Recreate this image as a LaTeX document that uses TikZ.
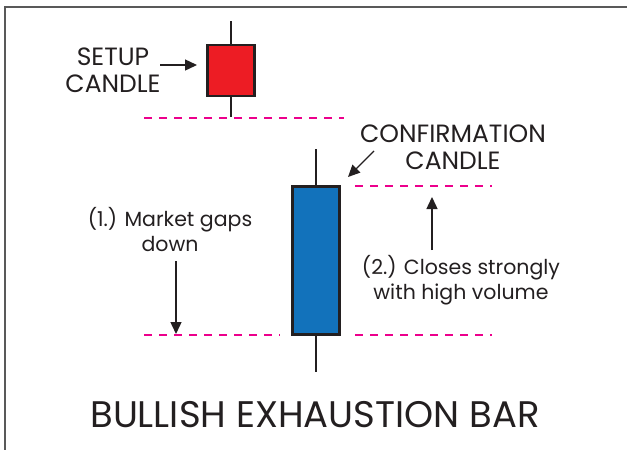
\documentclass[tikz,border=0pt]{standalone}
\usepackage{fontspec}
\setmainfont{Poppins}
\usetikzlibrary{arrows.meta}
\definecolor{setupred}{HTML}{ED1C24}
\definecolor{confblue}{HTML}{1272BB}
\definecolor{gapline}{HTML}{EC008C}
\definecolor{inkgray}{HTML}{231F20}
\tikzset{
  candle/.style={draw=inkgray, line width=2.6pt, minimum width=47pt, inner sep=0pt},
  wick/.style={draw=inkgray, line width=2.4pt},
  level/.style={draw=gapline, line width=2.8pt, dash pattern=on 8pt off 7pt},
  pointer/.style={draw=inkgray, line width=1.4pt, -{Triangle[length=12pt,width=11pt]}},
  label/.style={text=inkgray, align=center, font=\fontsize{20.5}{25}\selectfont, inner sep=0pt},
  caplabel/.style={label, font=\fontsize{25}{27}\selectfont}
}
\begin{document}
\begin{tikzpicture}[x=1pt, y=-1pt]
				\useasboundingbox (0,0) rectangle (627,450);
				\draw[gray!70!black, line width=2pt] (5,450) -- (5,7) -- (627,7);
				% candles
				\node[candle, fill=setupred, minimum height=51pt] (setup) at (231,70.5) {};
				\node[candle, fill=confblue, minimum height=148pt] (conf) at (316,260.5) {};
				\coordinate (setuptop) at (231,21);
				\coordinate (setupbot) at (231,117);
				\coordinate (conftop) at (316,149);
				\coordinate (confbot) at (316,372);
				\draw[wick] (setup.north) -- (setuptop);
				\draw[wick] (setup.south) -- (setupbot);
				\draw[wick] (conf.north) -- (conftop);
				\draw[wick] (conf.south) -- (confbot);
				% levels
				\draw[level] (144,118) -- (344,118);
				\draw[level] (355,186) -- (492,186);
				\draw[level] (144,335) -- (280,335);
				\draw[level] (355,335) -- (492,335);
				% labels
				\node[caplabel] (setuptxt) at (113,70) {SETUP\\CANDLE};
				\node[caplabel] (conftxt) at (453,147) {CONFIRMATION\\CANDLE};
				\node[label] (gaptxt) at (170,230) {(1.) Market gaps\\down};
				\node[label] (closetxt) at (461,280) {(2.) Closes strongly\\with high volume};
				\node[text=inkgray, font=\fontsize{37}{40}\selectfont, inner sep=0pt] (title) at (315,415) {BULLISH EXHAUSTION BAR};
				% pointers
				\coordinate (setuptip) at (197,65);
				\coordinate (conftip) at (348,177);
				\coordinate (gaptip) at (176,334);
				\coordinate (closetip) at (432,197);
				\draw[pointer] (160,65) -- (setuptip);
				\draw[pointer] (374,151) -- (conftip);
				\draw[pointer] (176,261) -- (gaptip);
				\draw[pointer] (432,250) -- (closetip);
			\end{tikzpicture}
\end{document}
